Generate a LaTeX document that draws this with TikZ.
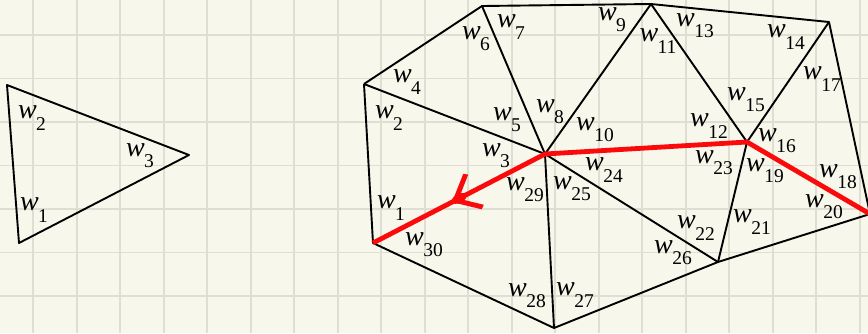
\documentclass[tikz,border=0pt]{standalone}
\usepackage{fontspec}
\setmainfont{Liberation Serif}
\usetikzlibrary{decorations.markings}
\definecolor{paper}{RGB}{248,247,236}
\definecolor{gridc}{RGB}{222,222,210}
\definecolor{pathred}{RGB}{250,10,10}
\newcommand{\wl}[1]{\textit{w}\kern-0.02em\raisebox{-0.4em}{\fontsize{19.5}{19.5}\selectfont #1}}
\tikzset{
  gridline/.style={draw=gridc, line width=1.8pt},
  edge/.style={draw=black, line width=1.9pt, line join=round},
  redpath/.style={draw=pathred, line width=4.8pt, line join=round},
  lab/.style={inner sep=0pt, font=\fontsize{28}{30}\selectfont},
}
\begin{document}
\begin{tikzpicture}[x=1pt,y=-1pt]
\fill[paper] (0,0) rectangle (868,333);
\useasboundingbox (0,0) rectangle (868,333);
\foreach \i in {0,...,19} {\draw[gridline] ({33.3+43.5*\i},0) -- ({33.3+43.5*\i},333);}
\foreach \j in {0,...,6} {\draw[gridline] (0,{35+43.5*\j}) -- (868,{35+43.5*\j});}

% left triangle
\coordinate (a1) at (7,85);
\coordinate (a2) at (19,243);
\coordinate (a3) at (189,155);
\draw[edge] (a1) -- (a2) -- (a3) -- cycle;
\node[lab] (la2) at (32,118) {\wl{2}};
\node[lab] (la3) at (140,156) {\wl{3}};
\node[lab] (la1) at (34,210) {\wl{1}};

% mesh vertices
\coordinate (lt) at (364,84);
\coordinate (t1) at (482,6);
\coordinate (c) at (545,154);
\coordinate (t2) at (651,4);
\coordinate (tr) at (829,22);
\coordinate (m) at (747,142);
\coordinate (r) at (870,214);
\coordinate (lm) at (718,262);
\coordinate (b) at (554,328);
\coordinate (lb) at (373,243);

\draw[edge] (lt) -- (t1) -- (t2) -- (tr) -- (r);
\draw[edge] (r) -- (lm) -- (b) -- (lb) -- (lt);
\draw[edge] (lt) -- (c);
\draw[edge] (t1) -- (c);
\draw[edge] (t2) -- (c);
\draw[edge] (t2) -- (m);
\draw[edge] (tr) -- (m);
\draw[edge] (m) -- (lm);
\draw[edge] (c) -- (lm);
\draw[edge] (c) -- (b);

\draw[redpath] (r) -- (m) -- (c) -- (lb);
\path[decoration={markings, mark=at position 0.525 with {
  \fill[pathred] (3,0) -- (-20,-20) -- (-24,-17) -- (-8,-3) -- (-8,3) -- (-24,17) -- (-20,20) -- cycle;
  \fill[pathred] (-5,0) ellipse (8pt and 4.5pt);
}}, decorate] (c) -- (lb);

% labels
\node[lab] (l2) at (389,118) {\wl{2}};
\node[lab] (l4) at (407,82) {\wl{4}};
\node[lab] (l6) at (476,39) {\wl{6}};
\node[lab] (l7) at (511,27) {\wl{7}};
\node[lab] (l5) at (507,120) {\wl{5}};
\node[lab] (l8) at (550,112) {\wl{8}};
\node[lab] (l3) at (496,156) {\wl{3}};
\node[lab] (l10) at (595,130) {\wl{10}};
\node[lab] (l9) at (612,20) {\wl{9}};
\node[lab] (l11) at (658,41) {\wl{11}};
\node[lab] (l13) at (695,26) {\wl{13}};
\node[lab] (l14) at (786,37) {\wl{14}};
\node[lab] (l17) at (822,79) {\wl{17}};
\node[lab] (l15) at (746,100) {\wl{15}};
\node[lab] (l12) at (709,126) {\wl{12}};
\node[lab] (l16) at (777,141) {\wl{16}};
\node[lab] (l23) at (714,163) {\wl{23}};
\node[lab] (l19) at (765,171) {\wl{19}};
\node[lab] (l18) at (838,177) {\wl{18}};
\node[lab] (l20) at (824,207) {\wl{20}};
\node[lab] (l21) at (752,222) {\wl{21}};
\node[lab] (l22) at (696,228) {\wl{22}};
\node[lab] (l26) at (673,253) {\wl{26}};
\node[lab] (l24) at (604,170) {\wl{24}};
\node[lab] (l29) at (525,190) {\wl{29}};
\node[lab] (l25) at (572,189) {\wl{25}};
\node[lab] (l1) at (391,208) {\wl{1}};
\node[lab] (l30) at (424,245) {\wl{30}};
\node[lab] (l28) at (527,296) {\wl{28}};
\node[lab] (l27) at (575,295) {\wl{27}};
\end{tikzpicture}
\end{document}
